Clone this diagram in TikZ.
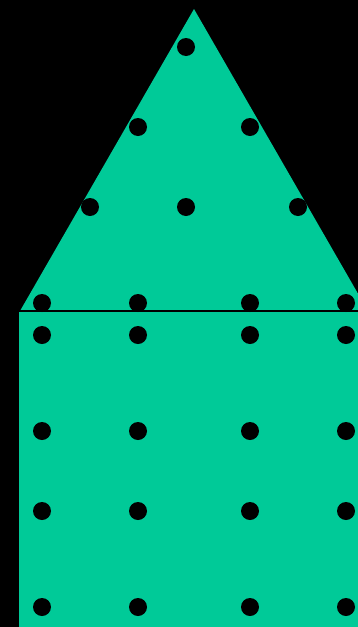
\documentclass[tikz,border=0pt]{standalone}
\definecolor{housegreen}{RGB}{0,202,152}
\tikzset{dot/.style={circle,fill=black,inner sep=0pt,minimum size=18pt}}
\begin{document}
\begin{tikzpicture}[x=1pt,y=-1pt]
\fill[black] (0,0) rectangle (358,627);
\useasboundingbox (0,0) rectangle (358,627);
\begin{scope}
\clip (0,0) rectangle (358,627);
\fill[housegreen] (194,9) -- (20,311) -- (368,311) -- cycle;
\fill[housegreen] (19,311) rectangle (370,630);
\draw[black,line width=2pt] (19,311) -- (370,311);
\foreach \x/\y [count=\i] in {186/47,138/127,250/127,90/207,186/207,298/207,
  42/303,138/303,250/303,346/303,
  42/335,138/335,250/335,346/335,
  42/431,138/431,250/431,346/431,
  42/511,138/511,250/511,346/511,
  42/607,138/607,250/607,346/607}
  \node[dot] (d\i) at (\x,\y) {};
\end{scope}
\end{tikzpicture}
\end{document}
